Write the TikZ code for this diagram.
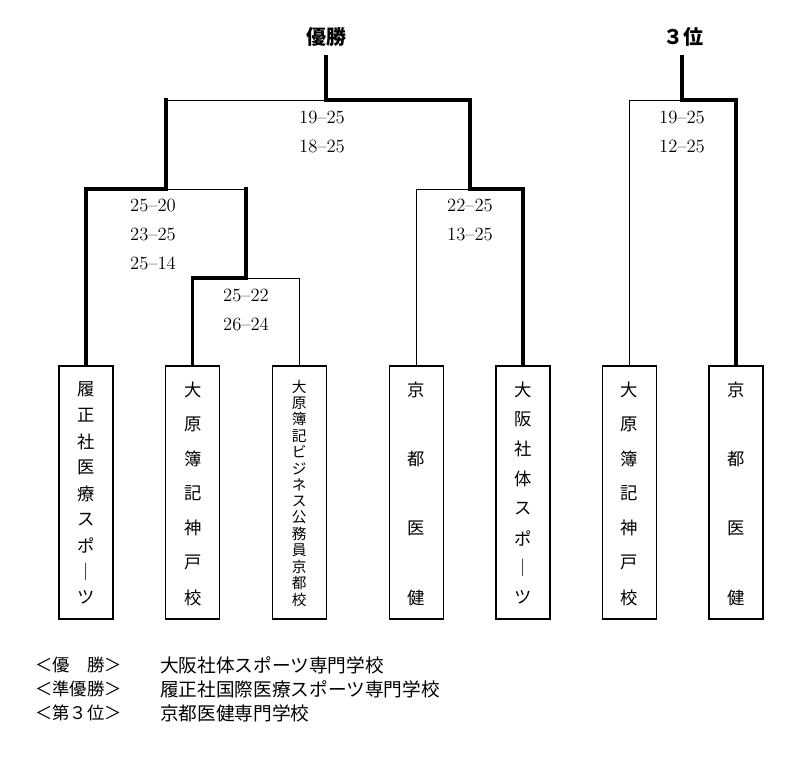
\documentclass[tikz,border=0pt]{standalone}
\usepackage{fontspec}
\newfontfamily\jpfont{Noto Sans CJK JP}
\usetikzlibrary{calc}

% one character per line inside a team box
\newcommand{\vname}[5][]{%
  \foreach \ch [count=\i] in {#5}
    \draw ($(#2.north)+(0,{#3+(\i-1)*#4})$) node (#2c\i) [namechar,#1] {\ch};
}

\begin{document}
\begin{tikzpicture}[x=0.75pt,y=-0.75pt,
  thinline/.style={line width=0.7pt},
  win/.style={line width=2.4pt,line cap=rect},
  team/.style={draw,line width=0.8pt,minimum width=40.5pt,minimum height=189.75pt,inner sep=0pt},
  namechar/.style={inner sep=0pt,font=\jpfont\fontsize{13}{13}\selectfont},
  smallchar/.style={font=\jpfont\fontsize{11}{11}\selectfont},
  score/.style={align=center,inner sep=0pt,font=\fontsize{14}{21.75}\selectfont},
  title/.style={inner sep=0pt,font=\jpfont\bfseries\fontsize{15}{15}\selectfont},
  legend/.style={anchor=west,inner sep=0pt,font=\jpfont\fontsize{13}{13}\selectfont},
  school/.style={anchor=west,inner sep=0pt,font=\jpfont\fontsize{14}{14}\selectfont}]

  \useasboundingbox (0,0) rectangle (800,760);
  % \draw[gray!30] (0,0) grid[step=50] (800,760);

  % teams
  \draw (86,492.5) node (b1) [team] {};
  \draw (192.7,492.5) node (b2) [team] {};
  \draw (299.3,492.5) node (b3) [team] {};
  \draw (416.5,492.5) node (b4) [team] {};
  \draw (523,492.5) node (b5) [team] {};
  \draw (629.3,492.5) node (b6) [team] {};
  \draw (736,492.5) node (b7) [team] {};

  \vname{b1}{24}{26}{履,正,社,医,療,ス,ポ,｜,ツ}
  \vname{b2}{24}{34.67}{大,原,簿,記,神,戸,校}
  \vname[smallchar]{b3}{21}{16.4}{大,原,簿,記,ビ,ジ,ネ,ス,公,務,員,京,都,校}
  \vname{b4}{24}{69.33}{京,都,医,健}
  \vname{b5}{24}{29.71}{大,阪,社,体,ス,ポ,｜,ツ}
  \vname{b6}{24}{34.67}{大,原,簿,記,神,戸,校}
  \vname{b7}{24}{69.33}{京,都,医,健}

  % junctions
  \coordinate (q) at (246,278);
  \coordinate (s1) at (166,189);
  \coordinate (s2) at (470,189);
  \coordinate (f) at (326,100);
  \coordinate (t) at (682,100);
  \coordinate (champtop) at (326,57);
  \coordinate (thirdtop) at (682,57);

  \draw (326,37) node (champ) [title] {優勝};
  \draw (683,37) node (third) [title] {３位};

  % losers
  \draw[thinline] (b3.north) |- (q);
  \draw[thinline] (q |- s1) -- (s1);
  \draw[thinline] (s1 |- f) -- (f);
  \draw[thinline] (b4.north) |- (s2);
  \draw[thinline] (b6.north) |- (t);

  % winners
  \draw[win] (b2.north) |- (q) -- (q |- s1);
  \draw[win] (b1.north) |- (s1) -- (s1 |- f);
  \draw[win] (b5.north) |- (s2) -- (s2 |- f) -- (f) -- (champtop);
  \draw[win] (b7.north) |- (t) -- (thirdtop);

  % set scores
  \draw (322,131.5) node (fs) [score] {19\textendash25\\18\textendash25};
  \draw (153,234.5) node (s1s) [score] {25\textendash20\\23\textendash25\\25\textendash14};
  \draw (246,309.5) node (qs) [score] {25\textendash22\\26\textendash24};
  \draw (470,220) node (s2s) [score] {22\textendash25\\13\textendash25};
  \draw (682,131.5) node (ts) [score] {19\textendash25\\12\textendash25};

  % results
  \draw (35,665) node (l1) [legend] {＜優　勝＞};
  \draw (35,689) node (l2) [legend] {＜準優勝＞};
  \draw (35,713) node (l3) [legend] {＜第３位＞};
  \draw (160,665) node (n1) [school] {大阪社体スポーツ専門学校};
  \draw (160,689) node (n2) [school] {履正社国際医療スポーツ専門学校};
  \draw (160,713) node (n3) [school] {京都医健専門学校};

\end{tikzpicture}
\end{document}
